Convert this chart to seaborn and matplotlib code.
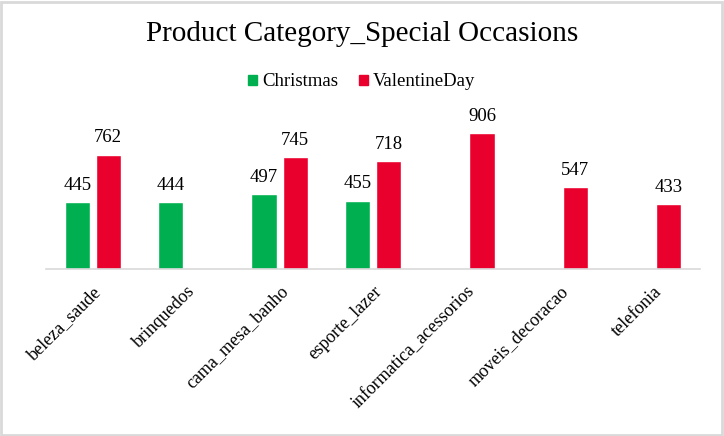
import numpy as np
import pandas as pd
import seaborn as sns
import matplotlib.pyplot as plt
from matplotlib.patches import Rectangle, Patch

# data
categories = ["beleza_saude", "brinquedos", "cama_mesa_banho", "esporte_lazer",
              "informatica_acessorios", "moveis_decoracao", "telefonia"]
christmas = [445, 444, 497, 455, np.nan, np.nan, np.nan]
valentine = [762, np.nan, 745, 718, 906, 547, 433]
occasions = ["Christmas", "ValentineDay"]
colors = {"Christmas": "#00B050", "ValentineDay": "#EA002C"}

df = pd.DataFrame({"category": categories, "Christmas": christmas, "ValentineDay": valentine})
long_df = df.melt(id_vars="category", var_name="occasion", value_name="orders").dropna()

sns.set_style("white")
plt.rcParams["font.family"] = ["Liberation Serif", "DejaVu Serif"]
plt.rcParams["text.color"] = "black"
plt.rcParams["xtick.color"] = "black"

fig = plt.figure(figsize=(7.24, 4.36), dpi=100)
ax = fig.add_axes([46 / 724, 167 / 436, 654 / 724, 150 / 436])

sns.barplot(data=long_df, x="category", y="orders", hue="occasion",
            order=categories, hue_order=occasions, palette=colors, saturation=1,
            width=0.664, gap=0.19, ax=ax, legend=False)

for cont in ax.containers:
    ax.bar_label(cont, fmt="%d", padding=6, fontsize=13.5, color="black")

ax.set_ylim(0, 1000)
ax.set_xlim(-0.5, len(categories) - 0.5)
ax.set_yticks([])
ax.set_xlabel("")
ax.set_ylabel("")
for side in ["top", "right", "left"]:
    ax.spines[side].set_visible(False)
ax.spines["bottom"].set_color("#D9D9D9")
ax.spines["bottom"].set_linewidth(1.2)
ax.tick_params(axis="x", length=0, pad=10, labelsize=13)
plt.setp(ax.get_xticklabels(), rotation=45, ha="right", rotation_mode="anchor")

fig.text(0.5, 1 - 34 / 436, "Product Category_Special Occasions",
         ha="center", va="center", fontsize=21)

handles = [Patch(color=colors[o], label=o) for o in occasions]
fig.legend(handles=handles, loc="center", bbox_to_anchor=(0.5, 1 - 82 / 436),
           ncol=2, frameon=False, fontsize=13.5, handlelength=0.45, handleheight=0.45,
           handletextpad=0.3, columnspacing=1.1)

# light grey chart border
fig.patches.append(Rectangle((0.002, 0.003), 0.995, 0.993, transform=fig.transFigure,
                             fill=False, edgecolor="#D9D9D9", linewidth=2))

fig.savefig("out.png", dpi=100, facecolor="white")
